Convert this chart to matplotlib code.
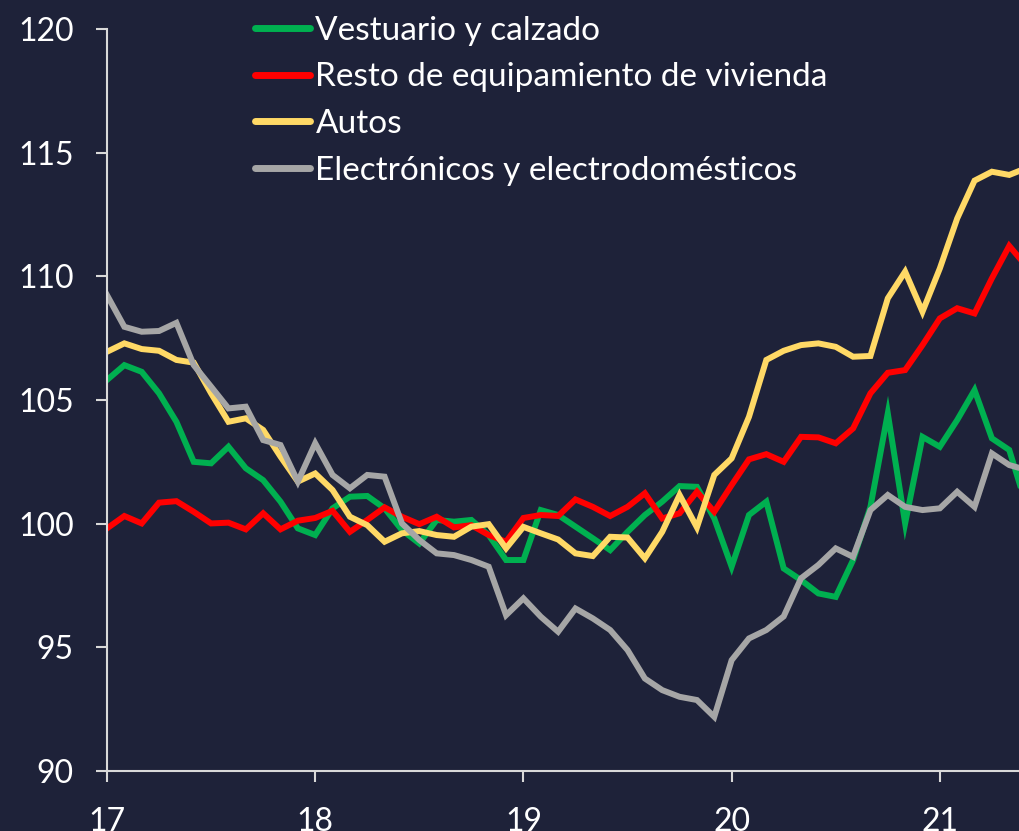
import numpy as np
import matplotlib.pyplot as plt

plt.rcParams['font.family'] = ['Lato', 'DejaVu Sans']

# monthly index, Jan 2017 onward (x axis shows year as 17..21)
vestuario = [105.81, 106.41, 106.14, 105.27, 104.12, 102.50, 102.44, 103.11, 102.24, 101.76,
             100.89, 99.81, 99.54, 100.62, 101.09, 101.12, 100.62, 99.74, 99.20, 100.15,
             100.08, 100.15, 99.54, 98.53, 98.53, 100.55, 100.35, 99.88, 99.41, 98.93,
             99.67, 100.35, 100.89, 101.52, 101.49, 100.21, 98.26, 100.35, 100.89, 98.19,
             97.72, 97.18, 97.04, 98.53, 100.68, 104.46, 100.01, 103.51, 103.11, 104.19,
             105.40, 103.45, 102.98, 100.70]
resto = [99.81, 100.31, 100.01, 100.85, 100.91, 100.48, 100.01, 100.04, 99.77, 100.42,
         99.77, 100.12, 100.23, 100.52, 99.67, 100.15, 100.66, 100.28, 99.98, 100.28,
         99.85, 99.94, 99.54, 99.27, 100.23, 100.35, 100.31, 100.98, 100.68, 100.31,
         100.68, 101.23, 100.21, 100.42, 101.29, 100.48, 101.56, 102.60, 102.81, 102.50,
         103.51, 103.49, 103.25, 103.85, 105.27, 106.10, 106.21, 107.22, 108.30, 108.71,
         108.50, 109.92, 111.23, 110.40]
autos = [106.95, 107.29, 107.06, 106.99, 106.62, 106.51, 105.27, 104.12, 104.26, 103.79,
         102.71, 101.70, 102.03, 101.36, 100.28, 99.94, 99.27, 99.61, 99.70, 99.54,
         99.47, 99.88, 99.98, 99.00, 99.87, 99.61, 99.36, 98.80, 98.69, 99.47,
         99.44, 98.60, 99.67, 101.16, 99.85, 101.97, 102.64, 104.32, 106.62, 106.99,
         107.22, 107.29, 107.15, 106.75, 106.78, 109.11, 110.19, 108.57, 110.32, 112.34,
         113.87, 114.23, 114.10, 114.38]
electro = [109.24, 107.96, 107.76, 107.79, 108.12, 106.41, 105.54, 104.66, 104.73, 103.38,
           103.18, 101.70, 103.25, 101.97, 101.43, 101.97, 101.90, 100.01, 99.34, 98.80,
           98.73, 98.53, 98.26, 96.30, 96.98, 96.24, 95.63, 96.57, 96.17, 95.70,
           94.89, 93.74, 93.27, 93.00, 92.87, 92.19, 94.48, 95.36, 95.70, 96.25,
           97.79, 98.33, 99.00, 98.66, 100.55, 101.16, 100.68, 100.55, 100.62, 101.29,
           100.68, 102.84, 102.37, 102.17]

labels = ['Vestuario y calzado', 'Resto de equipamiento de vivienda', 'Autos',
          'Electrónicos y electrodomésticos']
colors = ['#00b050', '#ff0000', '#ffd966', '#a6a6a6']
x = 17 + np.arange(len(vestuario)) / 12

bg = '#1e2239'
fg = '#ffffff'

fig = plt.figure(figsize=(10.2, 8.31), dpi=100, facecolor=bg)
ax = fig.add_axes([0.1049, 0.0722, 0.8951, 0.8929], facecolor=bg)

for ys, lab, c in zip([vestuario, resto, autos, electro], labels, colors):
    ax.plot(x, ys, color=c, linewidth=4.3, label=lab, solid_joinstyle='miter')

ax.set_xlim(17, 21.385)
ax.set_ylim(90, 120)
ax.set_yticks(range(90, 121, 5))
ax.set_xticks([17, 18, 19, 20, 21])
ax.set_xticklabels(['17', '18', '19', '20', '21'])

for s in ['top', 'right']:
    ax.spines[s].set_visible(False)
for s in ['left', 'bottom']:
    ax.spines[s].set_color('#d9d9d9')
    ax.spines[s].set_linewidth(1.5)
ax.tick_params(axis='both', colors='#d9d9d9', labelcolor=fg, length=8, width=1.5,
               labelsize=23)
ax.tick_params(axis='y', pad=16)
ax.tick_params(axis='x', pad=18)

leg = ax.legend(loc='upper left', bbox_to_anchor=(0.148, 1.036), frameon=False,
                fontsize=24, handlelength=1.65, handletextpad=0.15, labelspacing=0.5,
                borderaxespad=0)
for t in leg.get_texts():
    t.set_color(fg)
for h in leg.get_lines():
    h.set_linewidth(5)
    h.set_solid_capstyle('round')

fig.savefig('out.png', dpi=100, facecolor=bg)
